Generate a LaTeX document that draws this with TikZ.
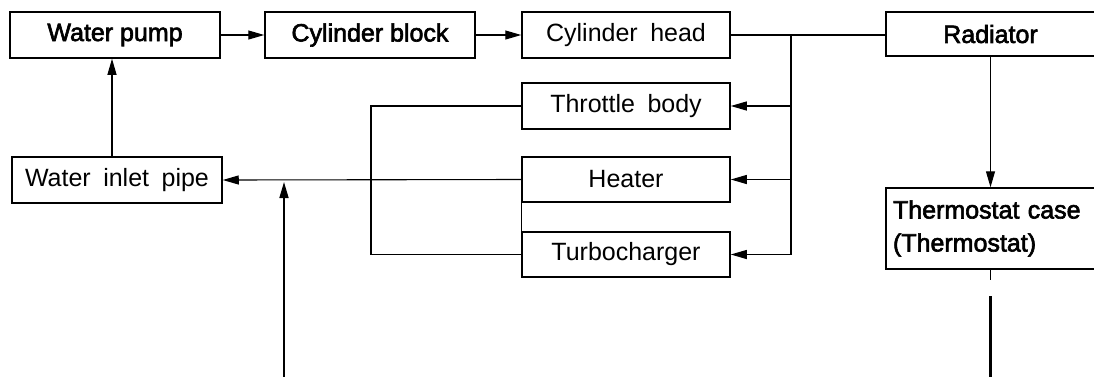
\documentclass[tikz,border=0pt]{standalone}
\usepackage{fontspec}
\setmainfont{Liberation Sans}
\newfontfamily\medfont[FakeBold=2.5]{Liberation Sans}
\usetikzlibrary{arrows.meta,calc}
\newcommand{\wsp}{\hspace{0.5em}}
\begin{document}
\begin{tikzpicture}[x=1pt,y=-1pt,
  box/.style={draw,line width=1.5pt,inner sep=0pt,minimum height=46pt,
    font=\fontsize{25}{29}\selectfont},
  bbox/.style={box,font=\fontsize{25}{29}\selectfont\medfont},
  conn/.style={line width=1.1pt},
  arr/.style={conn,-{Triangle[length=16pt,width=9pt]}},
  thick line/.style={line width=2.6pt}]
\useasboundingbox (0,0) rectangle (1094,376);
% boxes
\node[bbox,minimum width=210pt] (wp) at (115,35) {Water pump};
\node[bbox,minimum width=210pt] (cb) at (370,35) {Cylinder block};
\node[box,minimum width=208pt] (ch) at (626,35) {Cylinder\wsp head};
\node[bbox,minimum width=209pt,minimum height=44pt] (rad) at (990.5,34) {Radiator};
\node[box,minimum width=208pt] (tb) at (626,106) {Throttle\wsp body};
\node[box,minimum width=208pt,minimum height=45pt] (ht) at (626,179.5) {Heater};
\node[box,minimum width=208pt,minimum height=45pt] (tc) at (626,254.5) {Turbocharger};
\node[box,minimum width=210pt] (wip) at (117,180) {Water\wsp inlet\wsp pipe};
\node[bbox,minimum width=209pt,minimum height=81pt,align=left,text width=195pt,
  font=\fontsize{25}{33}\selectfont\medfont]
  (th) at (990.5,228.5) {Thermostat case\\(Thermostat)};
% top row
\draw[arr] (wp) -- (cb);
\draw[arr] (cb) -- (ch);
\draw[conn] (ch.east) -- (rad.west |- ch.east);
\coordinate (J) at (791,35);
\draw[conn] (J) -- (J |- tc.east);
\draw[arr] (J |- tb.east) -- (tb.east);
\draw[arr] (J |- ht.east) -- (ht.east);
\draw[arr] (J |- tc.east) -- (tc.east);
% radiator to thermostat
\draw[arr] (rad.south) -- (th.north);
\coordinate (t1) at (990.5,280);
\coordinate (t2) at (990.5,296);
\coordinate (t3) at (990.5,380);
\draw[conn] (th.south) -- (t1);
\draw[thick line] (t2) -- (t3);
% return lines
\coordinate (L) at (371,106);
\draw[conn] (tb.west) -- (L) -- (L |- tc.west) -- (tc.west);
\draw[conn] (ht.south west) -- (tc.north west);
\draw[arr] (ht.west) -- (wip.east);
\coordinate (b0) at (284,380);
\coordinate (b1) at (284,255);
\coordinate (b2) at (284,182);
\draw[thick line] (b0) -- (b1);
\draw[arr,line width=1.6pt] (b1) -- (b2);
% inlet to pump
\draw[arr] ([xshift=-5pt]wip.north) -- ([xshift=-5pt]wip.north |- wp.south);
\end{tikzpicture}
\end{document}
